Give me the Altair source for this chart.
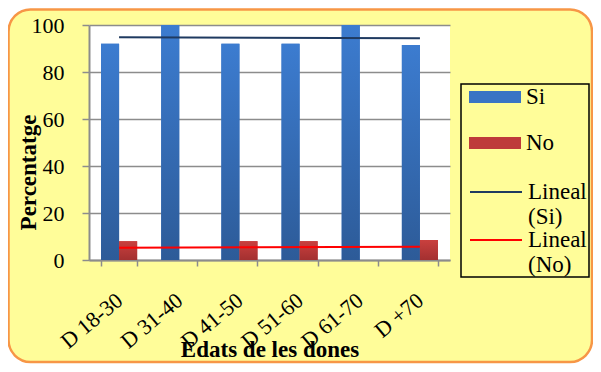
import json
import altair as alt
import pandas as pd

# ---- data ----
categories = ["D 18-30", "D 31-40", "D 41-50", "D 51-60", "D 61-70", "D +70"]
si_values = [92, 100, 92, 92, 100, 91.5]
no_values = [8, 0, 8, 8, 0, 8.5]
series_names = ["Si", "No"]
trend_names = ["Lineal (Si)", "Lineal (No)"]
y_ticks = [0, 20, 40, 60, 80, 100]

rows = []
for i, c in enumerate(categories):
    rows.append({"cat": c, "idx": i + 1, "series": "Si", "value": si_values[i]})
    rows.append({"cat": c, "idx": i + 1, "series": "No", "value": no_values[i]})
df = pd.DataFrame(rows)

SERIF = "Liberation Serif"
BLUE, RED, NAVY, TRED = "#3A74C4", "#BE3A3A", "#1F3A60", "#FF0000"
W, H = 361, 235

x_scale = alt.Scale(domain=categories, paddingInner=0.4, paddingOuter=0.2)
y_scale = alt.Scale(domain=[0, 100], nice=False)
off_scale = alt.Scale(domain=series_names, paddingInner=0, paddingOuter=0)

x_axis = alt.Axis(
    title="Edats de les dones", labelAngle=-40, labelAlign="right", labelBaseline="middle",
    labelPadding=31, labelFont=SERIF, labelFontSize=22, labelColor="black",
    tickBand="extent", tickSize=6, tickColor="#8C8C8C", tickWidth=1.5,
    domainColor="#8C8C8C", domainWidth=2,
    titleFont=SERIF, titleFontSize=23, titleFontWeight="bold", titleColor="black",
    titleY=89, titleBaseline="middle", grid=False,
)
y_axis = alt.Axis(
    title="Percentatge", values=y_ticks, grid=True, gridColor="#8C8C8C", gridWidth=1.3,
    domainColor="#8C8C8C", domainWidth=2, tickColor="#8C8C8C", tickSize=7, tickWidth=1.5,
    labelFont=SERIF, labelFontSize=22, labelColor="black", labelPadding=18,
    titleFont=SERIF, titleFontSize=23, titleFontWeight="bold", titleColor="black",
    titleX=-61, titleY=147, titleBaseline="middle", titleAlign="center",
)

bar_legend = alt.Legend(
    title=None, orient="none", legendX=380, legendY=46, padding=0,
    labelFont=SERIF, labelFontSize=23, labelColor="black", labelOffset=5,
    labelBaseline="middle", symbolSize=2704, symbolType="M-1,-0.23H1V0.23H-1Z",
    symbolStrokeWidth=0, symbolOpacity=1, rowPadding=8,
)


def line_legend(y):
    return alt.Legend(
        title=None, orient="none", legendX=380, legendY=y, padding=0,
        labelFont=SERIF, labelFontSize=23, labelColor="black", labelOffset=5,
        labelExpr="split(datum.label, ' ')", labelBaseline="middle",
        symbolSize=2704, symbolType="stroke", symbolStrokeWidth=2,
    )


base = alt.Chart(df)

bars = base.mark_bar(opacity=1).encode(
    x=alt.X("cat:N", scale=x_scale, axis=x_axis, sort=categories),
    xOffset=alt.XOffset("series:N", scale=off_scale),
    y=alt.Y("value:Q", scale=y_scale, axis=y_axis),
    color=alt.Color("series:N", scale=alt.Scale(domain=series_names, range=[BLUE, RED]),
                    legend=bar_legend),
)

grad_si = {"gradient": "linear", "x1": 0, "y1": 0, "x2": 0, "y2": 1,
           "stops": [{"offset": 0, "color": "#3C7CD0"}, {"offset": 1, "color": "#2D5B98"}]}
grad_no = {"gradient": "linear", "x1": 0, "y1": 0, "x2": 0, "y2": 1,
           "stops": [{"offset": 0, "color": "#C9403E"}, {"offset": 1, "color": "#A33030"}]}
bars_grad = base.mark_bar().encode(
    x=alt.X("cat:N", scale=x_scale, sort=categories),
    xOffset=alt.XOffset("series:N", scale=off_scale),
    y=alt.Y("value:Q", scale=y_scale),
    fill=alt.condition("datum.series === 'Si'", alt.value(grad_si), alt.value(grad_no)),
)


def trend_layer(series, name, colour, legend_y):
    return base.transform_filter(
        alt.datum.series == series
    ).transform_regression(
        "idx", "value", method="linear"
    ).transform_calculate(
        cat=json.dumps(categories) + "[round(datum.idx) - 1]",
        trend="'" + name + "'",
    ).mark_line(strokeWidth=2).encode(
        x=alt.X("cat:N", scale=x_scale, sort=categories),
        y=alt.Y("value:Q", scale=y_scale),
        stroke=alt.Stroke("trend:N", scale=alt.Scale(domain=[name], range=[colour]),
                          legend=line_legend(legend_y)),
    )


trend_si = trend_layer("Si", trend_names[0], NAVY, 140)
trend_no = trend_layer("No", trend_names[1], TRED, 188)

deco = alt.Data(values=[{"k": 1}])
white_corners = alt.Chart(deco).mark_rect(
    fillOpacity=0, stroke="white", strokeWidth=30, cornerRadius=37
).encode(x=alt.value(-95.5), x2=alt.value(518), y=alt.value(-30.5), y2=alt.value(352))
frame = alt.Chart(deco).mark_rect(
    fillOpacity=0, stroke="#F79646", strokeWidth=2.5, cornerRadius=22
).encode(x=alt.value(-80.5), x2=alt.value(503), y=alt.value(-15.5), y2=alt.value(337))
legend_box = alt.Chart(deco).mark_rect(
    fillOpacity=0, stroke="black", strokeWidth=1.5
).encode(x=alt.value(372), x2=alt.value(500), y=alt.value(59), y2=alt.value(252))

chart = alt.layer(
    white_corners, frame, legend_box, bars, bars_grad, trend_si, trend_no
).resolve_scale(stroke="independent").properties(
    width=W, height=H,
    autosize=alt.AutoSizeParams(type="none"),
    padding={"left": 81, "top": 17, "right": 143, "bottom": 104},
    background="#FFFD99",
).configure_view(fill="white", strokeWidth=0)

chart.save("out.html", embed_options={"renderer": "svg", "actions": False})
